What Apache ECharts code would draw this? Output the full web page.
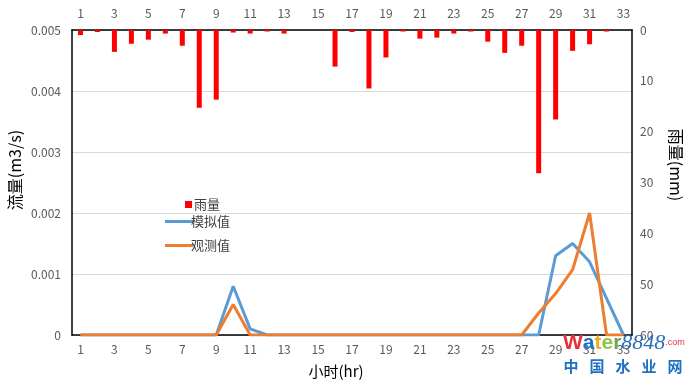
<!DOCTYPE html>
<html><head><meta charset="utf-8">
<script src="https://cdn.jsdelivr.net/npm/echarts@6/dist/echarts.min.js"></script>
<style>html,body{margin:0;padding:0;background:#fff}#c{width:692px;height:382px}</style>
</head><body><div id="c"></div>
<script>
var hours = ['1','2','3','4','5','6','7','8','9','10','11','12','13','14','15','16','17','18','19','20','21','22','23','24','25','26','27','28','29','30','31','32','33'];
var rainfall = [1.0,0.4,4.3,2.7,1.9,0.7,3.1,15.3,13.7,0.5,0.7,0.3,0.7,0,0,7.2,0.4,11.5,5.4,0.3,1.7,1.5,0.7,0.3,2.3,4.5,3.1,28.2,17.6,4.1,2.8,0.3,0];
var simulated = [0,0,0,0,0,0,0,0,0,0.0008,0.0001,0,0,0,0,0,0,0,0,0,0,0,0,0,0,0,0,0,0.0013,0.0015,0.0012,0.0006,0];
var observed = [0,0,0,0,0,0,0,0,0,0.0005,0,0,0,0,0,0,0,0,0,0,0,0,0,0,0,0,0,0.00036,0.00068,0.00107,0.0020,0,0];
var flowTicks = [0,0.001,0.002,0.003,0.004,0.005];
var rainTicks = [0,10,20,30,40,50,60];
var siteChars = ['中','国','水','业','网'];

var FONT = '"Noto Sans CJK SC", "Noto Sans", sans-serif';
var labelStyle = {color:'#595959', fontSize:12, fontFamily:FONT};
var graphics = [
  {type:'text', x:15, y:170, rotation:Math.PI/2,
   style:{text:'流量(m3/s)', fill:'#000', font:'16px '+FONT, align:'center', verticalAlign:'middle'}},
  {type:'text', x:676, y:165, rotation:-Math.PI/2,
   style:{text:'雨量(mm)', fill:'#000', font:'16px '+FONT, align:'center', verticalAlign:'middle'}},
  {type:'text', x:336, y:371,
   style:{text:'小时(hr)', fill:'#000', font:'15px '+FONT, align:'center', verticalAlign:'middle'}},
  {type:'text', x:563, y:343, z:100,
   style:{rich:{
     w:{fill:'#e8303a', font:'bold 21px "Liberation Sans", sans-serif'},
     a:{fill:'#1a73c8', font:'bold 21px "Liberation Sans", sans-serif'},
     t:{fill:'#f5a623', font:'bold 21px "Liberation Sans", sans-serif'},
     e:{fill:'#8dc63f', font:'bold 21px "Liberation Sans", sans-serif'},
     r:{fill:'#6aa84f', font:'bold 21px "Liberation Sans", sans-serif'},
     n:{fill:'#2a6ebb', font:'italic 22px "Liberation Serif", serif'},
     c:{fill:'#e8303a', font:'9px "Liberation Sans", sans-serif'}
   }, text:'{w|W}{a|a}{t|t}{e|e}{r|r}{n|8848}{c|.com}', verticalAlign:'middle'}}
];
siteChars.forEach(function(ch, i){
  graphics.push({type:'text', x:571 + i*26, y:366, z:100,
    style:{text:ch, fill:'#1f6fc5', font:'bold 15px '+FONT, align:'center', verticalAlign:'middle'}});
});

var chart = echarts.init(document.getElementById('c'));
chart.setOption({
  animation:false,
  textStyle:{fontFamily:FONT},
  grid:{left:72, right:60, top:30, bottom:47},
  legend:[
    {data:['雨量'], left:180, top:193, itemWidth:7, itemHeight:7, itemGap:4,
     textStyle:{fontSize:13, color:'#404040', padding:[0,0,0,-3]}, icon:'rect'},
    {data:['模拟值','观测值'], orient:'vertical', left:160, top:208, itemWidth:28, itemHeight:3, itemGap:7,
     icon:'rect', textStyle:{fontSize:13, color:'#404040', lineHeight:17, padding:[0,0,0,-7]}}
  ],
  xAxis:[
    {type:'category', data:hours, position:'bottom', boundaryGap:true,
     axisLine:{lineStyle:{color:'#000', width:1.5}}, axisTick:{show:false},
     axisLabel:Object.assign({interval:1, margin:8}, labelStyle)},
    {type:'category', data:hours, position:'top', boundaryGap:true,
     axisLine:{lineStyle:{color:'#000', width:1.5}}, axisTick:{show:false},
     axisLabel:Object.assign({interval:1, margin:11}, labelStyle)}
  ],
  yAxis:[
    {type:'value', min:flowTicks[0], max:flowTicks[flowTicks.length-1], interval:0.001, position:'left',
     axisLine:{show:true, lineStyle:{color:'#000', width:1.5}}, axisTick:{show:false},
     splitLine:{lineStyle:{color:'#d9d9d9'}},
     axisLabel:Object.assign({margin:11}, labelStyle)},
    {type:'value', min:rainTicks[0], max:rainTicks[rainTicks.length-1], interval:10, position:'right', inverse:true,
     axisLine:{show:true, lineStyle:{color:'#000', width:1.5}}, axisTick:{show:false},
     splitLine:{show:false},
     axisLabel:Object.assign({margin:8}, labelStyle)}
  ],
  series:[
    {name:'雨量', type:'bar', xAxisIndex:1, yAxisIndex:1, data:rainfall, barWidth:5,
     itemStyle:{color:'#ff0000'}},
    {name:'模拟值', type:'line', xAxisIndex:0, yAxisIndex:0, data:simulated, showSymbol:false, symbol:'none',
     lineStyle:{color:'#5b9bd5', width:3}, itemStyle:{color:'#5b9bd5'}},
    {name:'观测值', type:'line', xAxisIndex:0, yAxisIndex:0, data:observed, showSymbol:false, symbol:'none',
     lineStyle:{color:'#ed7d31', width:3}, itemStyle:{color:'#ed7d31'}}
  ],
  graphic:graphics
});
</script></body></html>
